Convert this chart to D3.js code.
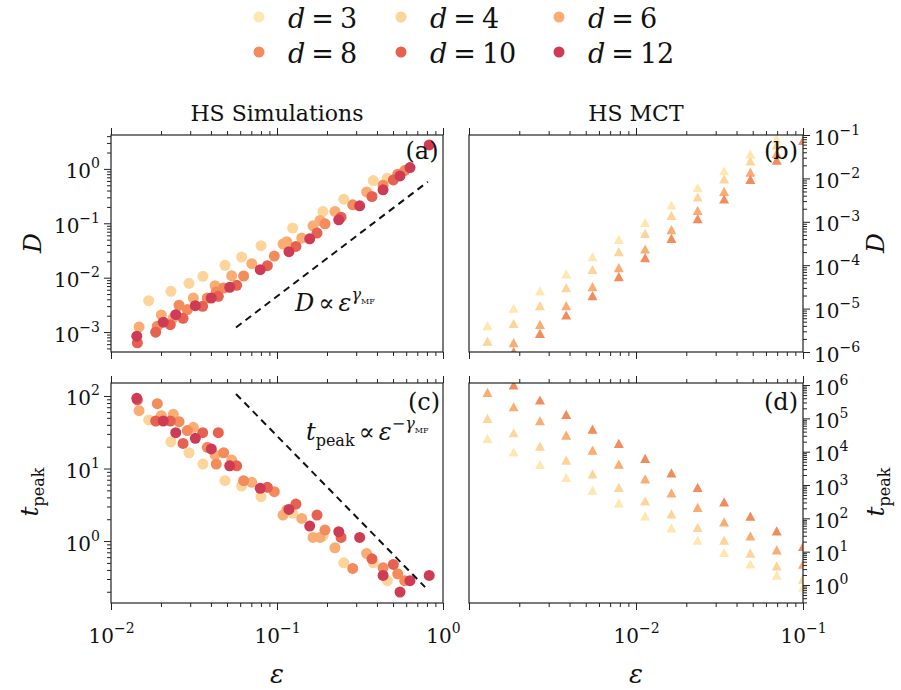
<!DOCTYPE html>
<meta charset="utf-8">
<title>HS simulations vs MCT</title>
<script src="https://d3js.org/d3.v7.min.js"></script>
<style>
    body { margin: 0; background: #fff; }
</style>
<body>
<svg id="chart" width="901" height="690"></svg>
<script>
    // legend / colours
    var dims = [3, 4, 6, 8, 10, 12];
    var dimColors = ["#fee8b0", "#fdd59a", "#f9ad73", "#f38b5b", "#e6614f", "#cf3b55"];

    // simulations: [epsilon, D, t_peak]
    var sim_d4 = [[0.01687, 0.00378, 46.7], [0.02297, 0.00561, 23.4], [0.02951, 0.00787, 16.5], [0.0358, 0.01058, 11.5],
        [0.0486, 0.01684, 6.80], [0.0612, 0.0239, 5.74], [0.0801, 0.0387, 4.09], [0.1242, 0.0815, 2.41],
        [0.1892, 0.1649, 1.172], [0.2523, 0.2776, 0.502], [0.380, 0.611, 0.502], [0.462, 0.674, 0.284]];
    var sim_d6 = [[0.01476, 0.00124, 62.8], [0.0201, 0.00207, 53.6], [0.02374, 0.00182, 55.9], [0.03133, 0.00423, 37.0],
        [0.04236, 0.00713, 15.4], [0.05333, 0.01088, 13.1], [0.07046, 0.0181, 6.45], [0.1087, 0.0415, 2.28],
        [0.1145, 0.0458, 2.68], [0.1409, 0.0534, 2.05], [0.1648, 0.0900, 1.124], [0.1816, 0.1127, 1.124],
        [0.2234, 0.1649, 0.809], [0.3467, 0.378, 0.676]];
    var sim_d8 = [[0.01901, 0.00128, 78.4], [0.0257, 0.00311, 44.3], [0.02884, 0.00259, 33.3], [0.03802, 0.00423, 19.6],
        [0.04305, 0.00546, 11.5], [0.04775, 0.00646, 16.5], [0.06295, 0.01073, 6.80], [0.09638, 0.0250, 4.79],
        [0.1945, 0.0979, 1.42], [0.2858, 0.2185, 0.420], [0.4355, 0.502, 0.429], [0.5336, 0.798, 0.354],
        [0.5877, 0.932, 0.284]];
    var sim_d10 = [[0.01441, 0.000633, 88.1], [0.01858, 0.000993, 45.2], [0.02277, 0.00137, 45.2], [0.02716, 0.00179, 22.2],
        [0.03566, 0.00298, 31.2], [0.04432, 0.00455, 31.2], [0.05715, 0.00723, 10.9], [0.0875, 0.0166, 5.50],
        [0.1300, 0.0376, 3.24], [0.1742, 0.0660, 2.28], [0.2432, 0.1298, 1.124], [0.3733, 0.311, 0.570],
        [0.5023, 0.628, 0.477]];
    var sim_d12 = [[0.0143, 0.000839, 92.9], [0.02065, 0.00152, 45.2], [0.02455, 0.00209, 31.2], [0.03221, 0.00306, 26.1],
        [0.04018, 0.00423, 18.6], [0.05188, 0.00665, 10.9], [0.07925, 0.01402, 5.33], [0.1180, 0.0300, 2.73],
        [0.1574, 0.0519, 1.61], [0.2355, 0.1159, 1.345], [0.3148, 0.2095, 1.124], [0.4355, 0.412, 0.336],
        [0.5508, 0.744, 0.198], [0.6324, 1.06, 0.284], [0.826, 2.76, 0.336]];
    var simSets = [[4, sim_d4], [6, sim_d6], [8, sim_d8], [10, sim_d10], [12, sim_d12]];

    // MCT
    var mctEps = [0.00129, 0.00185, 0.00266, 0.00382, 0.00549, 0.00789, 0.01134, 0.0163, 0.0234, 0.0337, 0.0484, 0.0696, 0.1];
    var mctD_d3 = [4.04e-6, 1.02e-5, 2.55e-5, 6.27e-5, 1.57e-4, 3.95e-4, 9.73e-4, 2.44e-3, 6.11e-3, 1.50e-2, 3.65e-2, 8.09e-2, null];
    var mctD_d4 = [1.79e-6, 4.58e-6, 1.17e-5, 3.03e-5, 8.05e-5, 2.05e-4, 5.43e-4, 1.41e-3, 3.73e-3, 9.68e-3, 2.52e-2, 5.88e-2, null];
    var mctD_d6 = [null, 1.64e-6, 4.35e-6, 1.17e-5, 3.20e-5, 8.75e-5, 2.36e-4, 6.58e-4, 1.84e-3, 5.05e-3, 1.40e-2, 3.79e-2, null];
    var mctD_d8 = [null, 1.02e-6, 2.70e-6, 7.13e-6, 1.98e-5, 5.43e-5, 1.49e-4, 4.17e-4, 1.18e-3, 3.35e-3, 9.53e-3, 2.65e-2, 7.5e-2];
    var mctT_d3 = [2.51e4, 9.93e3, 4.16e3, 1.69e3, 703, 292, 119, 51.9, 22.1, 9.46, 4.31, 1.97, 0.86];
    var mctT_d4 = [1.0e5, 3.70e4, 1.47e4, 5.60e3, 2.17e3, 847, 336, 136, 53.3, 22.1, 9.02, 3.75, 1.49];
    var mctT_d6 = [6.04e5, 2.23e5, 8.47e4, 3.15e4, 1.12e4, 4.25e3, 1.53e3, 583, 212, 78.5, 29.8, 11.3, 4.22];
    var mctT_d8 = [null, 1.0e6, 3.55e5, 1.32e5, 4.77e4, 1.77e4, 6.29e3, 2.32e3, 847, 313, 116, 42.2, 14.3];
    var mctSets = [[3, mctD_d3, mctT_d3], [4, mctD_d4, mctT_d4], [6, mctD_d6, mctT_d6], [8, mctD_d8, mctT_d8]];

    // power-law guides
    var guideA_eps = [0.0566, 0.81], guideA_D = [1.21e-3, 0.58];
    var guideC_eps = [0.0566, 0.78], guideC_t = [106.6, 0.232];

    var FONT = "DejaVu Serif, Liberation Serif, Times New Roman, Noto Serif, serif";
    var svg = d3.select("#chart");
    function col(d) { return dimColors[dims.indexOf(d)]; }
    function txt(parent) {
        return parent.append("text").attr("font-family", FONT).attr("fill", "#111");
    }

    function logTicks(dom) {
        var lo = Math.floor(Math.log10(dom[0])), hi = Math.ceil(Math.log10(dom[1]));
        var maj = [], min = [];
        for (var k = lo; k <= hi; k++) {
            for (var m = 1; m < 10; m++) {
                var v = +(m * Math.pow(10, k)).toPrecision(6);
                if (v >= dom[0] * 0.999 && v <= dom[1] * 1.001) (m == 1 ? maj : min).push(v);
            }
        }
        return { maj: maj, min: min };
    }

    function supLabel(sel, labels, where) {
        sel.attr("font-family", FONT);
        sel.selectAll(".tick text").each(function (d) {
            var t = d3.select(this);
            t.text(null);
            if (labels.indexOf(d) < 0) return;
            var e = Math.round(Math.log10(d));
            t.attr("font-family", FONT).attr("font-size", 20).attr("fill", "#111");
            if (where == "bottom") t.attr("y", 40).attr("dy", null);
            else t.attr("dy", "0.45em");
            t.append("tspan").text("10");
            t.append("tspan").attr("font-size", 14).attr("dy", -10).text(e < 0 ? "\u2212" + (-e) : e);
        });
    }

    function drawAxis(g, gen, scale, ticks, transform, labels, where) {
        [[ticks.min, 4], [ticks.maj, 7]].forEach(function (tv) {
            var a = gen(scale).tickValues(tv[0]).tickSize(tv[1]).tickSizeOuter(0).tickPadding(4);
            var ag = g.append("g").attr("transform", transform).call(a);
            ag.select(".domain").remove();
            ag.selectAll(".tick line").attr("stroke", "#222").attr("stroke-width", 1);
            if (tv[1] == 7 && labels) supLabel(ag, labels, where);
            else ag.selectAll(".tick text").remove();
        });
    }

    var panels = [
        { id: "a", x0: 111, x1: 443, y0: 135, y1: 352, xd: [0.01, 1], yd: [4.3e-4, 4.2], side: "left", xlab: null, ylab: [1, 0.1, 0.01, 0.001] },
        { id: "b", x0: 469, x1: 803, y0: 135, y1: 352, xd: [0.001, 0.1], yd: [1e-6, 0.1], side: "right", xlab: null, ylab: [1e-6, 1e-5, 1e-4, 1e-3, 1e-2, 0.1] },
        { id: "c", x0: 111, x1: 443, y0: 383, y1: 603, xd: [0.01, 1], yd: [0.14, 151], side: "left", xlab: [0.01, 0.1, 1], ylab: [1, 10, 100] },
        { id: "d", x0: 469, x1: 803, y0: 383, y1: 603, xd: [0.001, 0.1], yd: [0.288, 1.15e6], side: "right", xlab: [0.01, 0.1], ylab: [1, 10, 100, 1000, 1e4, 1e5, 1e6] }
    ];

    panels.forEach(function (p) {
        p.x = d3.scaleLog().domain(p.xd).range([p.x0, p.x1]);
        p.y = d3.scaleLog().domain(p.yd).range([p.y1, p.y0]);
        var g = svg.append("g");
        p.g = g;
        svg.append("clipPath").attr("id", "clip-" + p.id).append("rect")
            .attr("x", p.x0).attr("y", p.y0).attr("width", p.x1 - p.x0).attr("height", p.y1 - p.y0);
        p.plot = g.append("g").attr("clip-path", "url(#clip-" + p.id + ")");

        var xt = logTicks(p.xd), yt = logTicks(p.yd);
        drawAxis(g, d3.axisBottom, p.x, xt, "translate(0," + p.y1 + ")", p.xlab, "bottom");
        drawAxis(g, d3.axisTop, p.x, xt, "translate(0," + p.y0 + ")", null, "top");
        if (p.side == "left") drawAxis(g, d3.axisLeft, p.y, yt, "translate(" + p.x0 + ",0)", p.ylab, "left");
        else drawAxis(g, d3.axisRight, p.y, yt, "translate(" + p.x1 + ",0)", p.ylab, "right");

        g.append("rect").attr("x", p.x0).attr("y", p.y0).attr("width", p.x1 - p.x0).attr("height", p.y1 - p.y0)
            .attr("fill", "none").attr("stroke", "#222").attr("stroke-width", 1.2);
    });

    var pa = panels[0], pb = panels[1], pc = panels[2], pd = panels[3];

    // simulations: circles
    simSets.forEach(function (s) {
        pa.plot.selectAll(null).data(s[1]).enter().append("circle")
            .attr("cx", function (d) { return pa.x(d[0]); })
            .attr("cy", function (d) { return pa.y(d[1]); })
            .attr("r", 5.5).attr("fill", col(s[0]));
        pc.plot.selectAll(null).data(s[1]).enter().append("circle")
            .attr("cx", function (d) { return pc.x(d[0]); })
            .attr("cy", function (d) { return pc.y(d[2]); })
            .attr("r", 5.5).attr("fill", col(s[0]));
    });

    // MCT: triangles
    var tri = "M0,-4.6L5,4.6L-5,4.6Z";
    mctSets.forEach(function (s) {
        var ptsD = mctEps.map(function (e, i) { return [e, s[1][i]]; }).filter(function (d) { return d[1] != null; });
        var ptsT = mctEps.map(function (e, i) { return [e, s[2][i]]; }).filter(function (d) { return d[1] != null; });
        pb.plot.selectAll(null).data(ptsD).enter().append("path").attr("d", tri)
            .attr("transform", function (d) { return "translate(" + pb.x(d[0]) + "," + pb.y(d[1]) + ")"; })
            .attr("fill", col(s[0]));
        pd.plot.selectAll(null).data(ptsT).enter().append("path").attr("d", tri)
            .attr("transform", function (d) { return "translate(" + pd.x(d[0]) + "," + pd.y(d[1]) + ")"; })
            .attr("fill", col(s[0]));
    });

    // guides
    pa.g.append("line").attr("x1", pa.x(guideA_eps[0])).attr("y1", pa.y(guideA_D[0]))
        .attr("x2", pa.x(guideA_eps[1])).attr("y2", pa.y(guideA_D[1]))
        .attr("stroke", "#111").attr("stroke-width", 2).attr("stroke-dasharray", "7,5");
    pc.g.append("line").attr("x1", pc.x(guideC_eps[0])).attr("y1", pc.y(guideC_t[0]))
        .attr("x2", pc.x(guideC_eps[1])).attr("y2", pc.y(guideC_t[1]))
        .attr("stroke", "#111").attr("stroke-width", 2).attr("stroke-dasharray", "7,5");

    // annotations
    var ann1 = txt(svg).attr("x", 295).attr("y", 311).attr("font-size", 24);
    ann1.append("tspan").attr("font-style", "italic").text("D");
    ann1.append("tspan").attr("dx", 4).text("\u221d");
    ann1.append("tspan").attr("dx", 4).attr("font-style", "italic").text("\u03b5");
    ann1.append("tspan").attr("dy", -11).attr("font-size", 16).attr("font-style", "italic").text("\u03b3");
    ann1.append("tspan").attr("dy", 4).attr("font-size", 8).text("MF");

    var ann2 = txt(svg).attr("x", 306).attr("y", 440).attr("font-size", 24);
    ann2.append("tspan").attr("font-style", "italic").text("t");
    ann2.append("tspan").attr("dy", 6).attr("font-size", 16).text("peak");
    ann2.append("tspan").attr("dy", -6).attr("dx", 4).text("\u221d");
    ann2.append("tspan").attr("dx", 4).attr("font-style", "italic").text("\u03b5");
    ann2.append("tspan").attr("dy", -11).attr("font-size", 16).text("\u2212");
    ann2.append("tspan").attr("font-size", 16).attr("font-style", "italic").text("\u03b3");
    ann2.append("tspan").attr("dy", 4).attr("font-size", 8).text("MF");

    // panel tags
    [["(a)", 422, 159], ["(b)", 781, 159], ["(c)", 424, 410], ["(d)", 781, 410]].forEach(function (t) {
        txt(svg).attr("x", t[1]).attr("y", t[2]).attr("text-anchor", "middle")
            .attr("font-size", 24).text(t[0]);
    });

    // titles
    txt(svg).attr("x", 277).attr("y", 121).attr("text-anchor", "middle").attr("font-size", 22).text("HS Simulations");
    txt(svg).attr("x", 636).attr("y", 121).attr("text-anchor", "middle").attr("font-size", 22).text("HS MCT");

    // axis titles
    [277, 636].forEach(function (cx) {
        txt(svg).attr("x", cx).attr("y", 683).attr("text-anchor", "middle")
            .attr("font-size", 26).attr("font-style", "italic").text("\u03b5");
    });
    function yTitle(x, y, rot, isT) {
        var t = txt(svg).attr("transform", "translate(" + x + "," + y + ") rotate(" + rot + ")")
            .attr("text-anchor", "middle").attr("font-size", 25);
        if (!isT) { t.append("tspan").attr("font-style", "italic").text("D"); return; }
        t.append("tspan").attr("font-style", "italic").text("t");
        t.append("tspan").attr("dy", 6).attr("font-size", 16).text("peak");
    }
    yTitle(41, 243, -90, false);
    yTitle(38, 492, -90, true);
    yTitle(884, 243, -90, false);
    yTitle(884, 492, -90, true);

    // legend
    dims.forEach(function (d, i) {
        var cx = [259, 401, 559][i % 3], cy = [17, 52][Math.floor(i / 3)];
        svg.append("circle").attr("cx", cx).attr("cy", cy).attr("r", 5.5).attr("fill", dimColors[i]);
        var t = txt(svg).attr("x", cx + 29).attr("y", cy + 11).attr("font-size", 27);
        t.append("tspan").attr("font-style", "italic").text("d");
        t.append("tspan").attr("dx", 6).text("=");
        t.append("tspan").attr("dx", 6).text(d);
    });
</script>
</body>
